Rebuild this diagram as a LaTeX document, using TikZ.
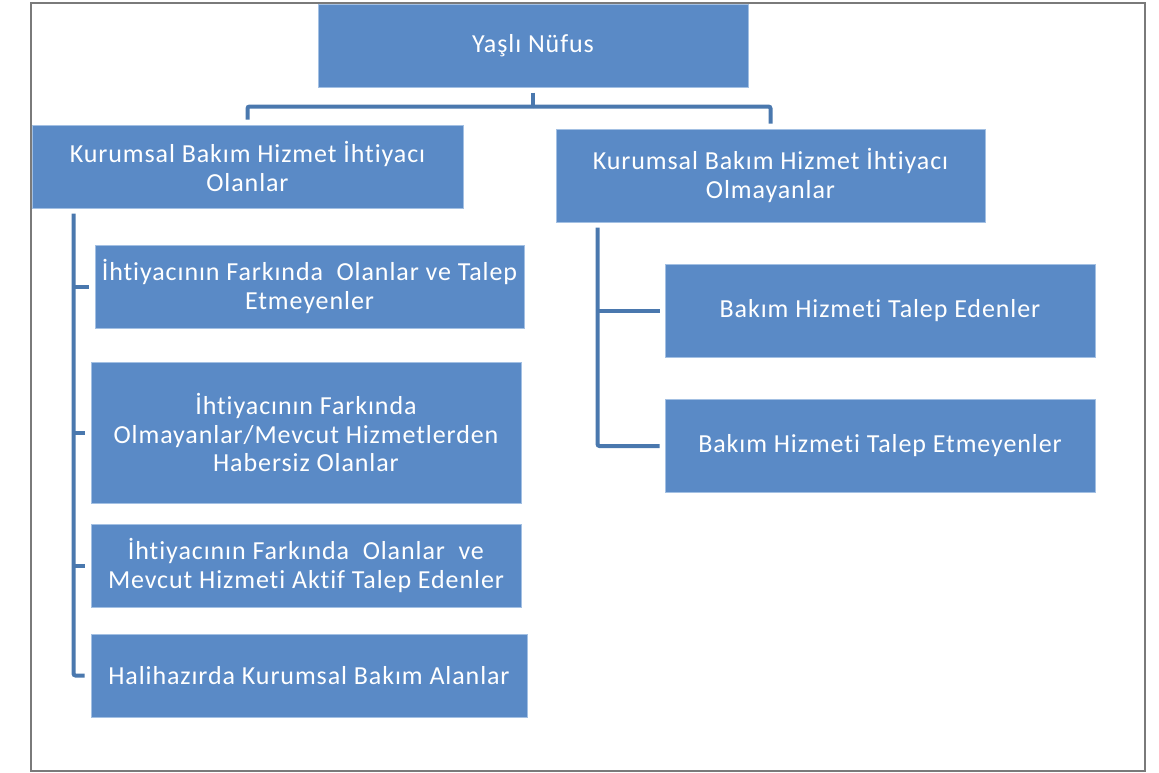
\documentclass[tikz,border=0pt]{standalone}
\usepackage{fontspec}
\setmainfont{Carlito}[Ligatures=NoCommon, LetterSpace=3.5]
\usetikzlibrary{calc}
\definecolor{boxblue}{HTML}{5A8AC6}
\definecolor{boxedge}{HTML}{A3C0E3}
\definecolor{linkblue}{HTML}{4A78AE}
\definecolor{framegray}{HTML}{7A7A7A}
\tikzset{
	box/.style={draw=boxedge, line width=1pt, fill=boxblue, text=white, align=center, inner sep=0pt, font=\fontsize{26}{28.5}\selectfont},
	link/.style={draw=linkblue, line width=4pt, rounded corners=2pt},
}

\begin{document}
\begin{tikzpicture}[x=1pt, y=-1pt]
		%%%%% START %%%%%
		
		\useasboundingbox (0, 0) rectangle (1159, 772);
		\draw[framegray, line width=2.5pt] (31, 3) rectangle (1145, 771);
		
		\node[box, minimum width=430pt, minimum height=83pt] (nufus) at (533, 45.5) {Yaşlı Nüfus};
		
		\node[box, minimum width=431pt, minimum height=83pt] (olanlar) at (247.5, 166.5) {Kurumsal Bakım Hizmet İhtiyacı\\Olanlar};
		\node[box, minimum width=429pt, minimum height=93pt] (olmayanlar) at (770.5, 175.5) {Kurumsal Bakım Hizmet İhtiyacı\\Olmayanlar};
		
		\node[box, minimum width=429pt, minimum height=83pt] (talep) at (309.5, 286.5) {İhtiyacının Farkında\ \ Olanlar ve Talep\\Etmeyenler};
		\node[box, minimum width=430pt, minimum height=141pt] (habersiz) at (306, 432.5) {İhtiyacının Farkında\\Olmayanlar/Mevcut Hizmetlerden\\Habersiz Olanlar};
		\node[box, minimum width=430pt, minimum height=83pt] (aktif) at (306, 565.5) {İhtiyacının Farkında\ \ Olanlar\ \ ve\\Mevcut Hizmeti Aktif Talep Edenler};
		\node[box, minimum width=436pt, minimum height=83pt] (alanlar) at (309, 675.5) {Halihazırda Kurumsal Bakım Alanlar};
		
		\node[box, minimum width=430pt, minimum height=93pt] (edenler) at (880, 310.5) {Bakım Hizmeti Talep Edenler};
		\node[box, minimum width=430pt, minimum height=93pt] (etmeyenler) at (880, 446) {Bakım Hizmeti Talep Etmeyenler};
		
		% top split
		\coordinate (split) at ($(nufus.south)+(0, 19)$);
		\draw[link] ([yshift=-5pt]nufus.south) -- (split);
		\draw[link] (split) -| ([yshift=5pt]olanlar.north);
		\draw[link] (split) -| ([yshift=5pt]olmayanlar.north);
		
		% left bracket
		\coordinate (lbar) at ($(olanlar.south west)+(42, 5)$);
		\draw[link] (lbar) |- ([xshift=-6pt]alanlar.west);
		\draw[link] (lbar |- talep.west) -- ([xshift=-6pt]talep.west);
		\draw[link] (lbar |- habersiz.west) -- ([xshift=-6pt]habersiz.west);
		\draw[link] (lbar |- aktif.west) -- ([xshift=-6pt]aktif.west);
		
		% right bracket
		\coordinate (rbar) at ($(olmayanlar.south west)+(42, 5)$);
		\draw[link] (rbar) |- ([xshift=-5pt]etmeyenler.west);
		\draw[link] (rbar |- edenler.west) -- ([xshift=-5pt]edenler.west);
		
		%%%%% END %%%%%
\end{tikzpicture}
\end{document}
